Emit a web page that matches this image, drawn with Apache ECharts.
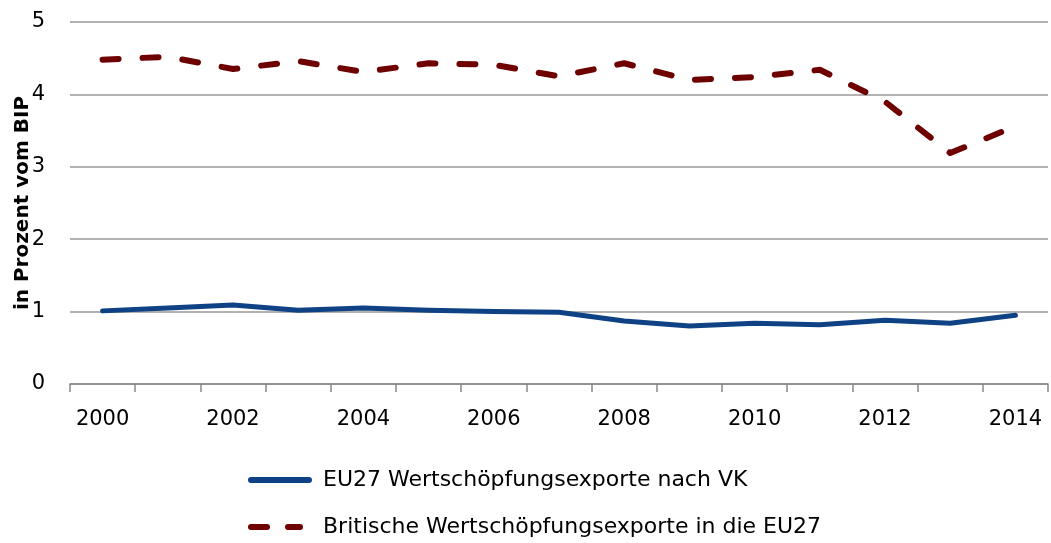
<!DOCTYPE html>
<html>
<head>
<meta charset="utf-8">
<script src="https://cdn.jsdelivr.net/npm/echarts@6/dist/echarts.min.js"></script>
<style>
  html, body { margin: 0; padding: 0; background: #fff; }
  #chart { width: 1051px; height: 543px; }
</style>
</head>
<body>
<div id="chart"></div>
<script>
var years = ['2000', '2001', '2002', '2003', '2004', '2005', '2006', '2007', '2008', '2009', '2010', '2011', '2012', '2013', '2014'];
var euNachVK = [1.01, 1.05, 1.09, 1.02, 1.05, 1.02, 1.00, 0.99, 0.87, 0.80, 0.84, 0.82, 0.88, 0.84, 0.95];
var vkInEU = [4.48, 4.52, 4.35, 4.46, 4.31, 4.43, 4.41, 4.25, 4.43, 4.20, 4.24, 4.34, 3.90, 3.19, 3.56];
var seriesNames = ['EU27 Wertschöpfungsexporte nach VK', 'Britische Wertschöpfungsexporte in die EU27'];

var blue = '#0e4285';
var red = '#6e0000';
var font = '"DejaVu Sans", sans-serif';
var myChart = echarts.init(document.getElementById('chart'));
var option = {
    animation: false,
    textStyle: { fontFamily: font },
    grid: { left: 70, right: 3, top: 22, bottom: 159, containLabel: false, outerBoundsMode: 'none' },
    legend: {
        orient: 'vertical',
        left: 243,
        top: 464,
        height: 80,
        itemGap: 25,
        itemWidth: 70,
        itemHeight: 6,
        textStyle: { fontSize: 22, color: '#000', fontFamily: font },
        data: [
            // leerer Punkt bei x=70 haelt den Abstand zum Text
            { name: seriesNames[0], icon: 'path://M3,0h58a3,3 0 0 1 0,6h-58a3,3 0 0 1 0,-6z M70,0h0v6h0z', itemStyle: { color: blue } },
            { name: seriesNames[1], icon: 'path://M3,0h16a3,3 0 0 1 0,6h-16a3,3 0 0 1 0,-6z M40,0h12a3,3 0 0 1 0,6h-12a3,3 0 0 1 0,-6z M70,0h0v6h0z', itemStyle: { color: red } }
        ]
    },
    xAxis: {
        type: 'category',
        data: years,
        boundaryGap: true,
        axisLine: { lineStyle: { color: '#888', width: 1.5 } },
        axisTick: { show: true, length: 8, interval: 0, lineStyle: { color: '#888', width: 1.5 } },
        axisLabel: { interval: 1, fontSize: 21, color: '#000', margin: 25 }
    },
    yAxis: {
        type: 'value',
        min: 0,
        max: 5,
        interval: 1,
        name: 'in Prozent vom BIP',
        nameLocation: 'middle',
        nameGap: 37,
        nameMoveOverlap: false,
        nameTextStyle: { fontSize: 20, fontWeight: 'bold', color: '#000' },
        axisLine: { show: false },
        axisTick: { show: false },
        axisLabel: { fontSize: 21, color: '#000', margin: 25 },
        splitLine: { lineStyle: { color: '#999', width: 1.5 } }
    },
    series: [
        {
            name: seriesNames[0],
            type: 'line',
            data: euNachVK,
            symbol: 'none',
            lineStyle: { color: blue, width: 5, cap: 'round', join: 'round' },
            itemStyle: { color: blue }
        },
        {
            name: seriesNames[1],
            type: 'line',
            data: vkInEU,
            symbol: 'none',
            lineStyle: { color: red, width: 6, type: [16, 24], cap: 'round', join: 'round' },
            itemStyle: { color: red }
        }
    ]
};
myChart.setOption(option);
</script>
</body>
</html>
